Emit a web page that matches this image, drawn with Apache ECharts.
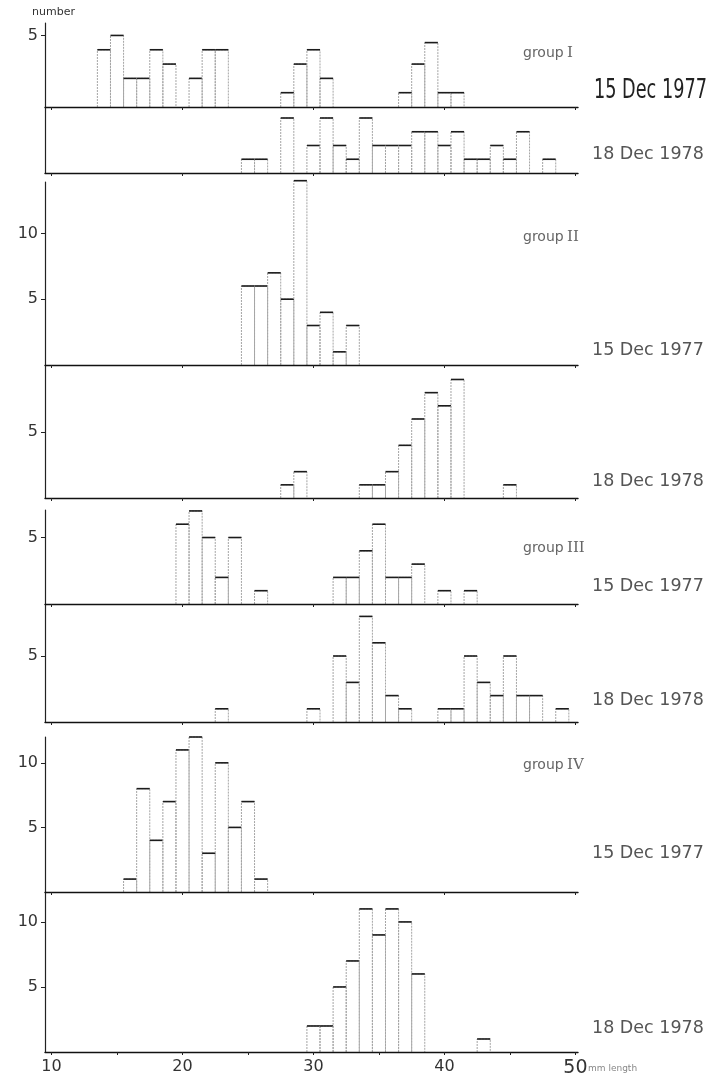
<!DOCTYPE html>
<html>
<head>
<meta charset="utf-8">
<title>length frequency, groups I-IV</title>
<script src="https://cdn.jsdelivr.net/npm/echarts@6/dist/echarts.min.js"></script>
<style>
  html, body { margin: 0; padding: 0; background: #fff; }
  #chart { width: 726px; height: 1080px; }
</style>
</head>
<body>
<div id="chart"></div>
<script>
// [length class (mm), number]
const g1Dec77 = [[14,4],[15,5],[16,2],[17,2],[18,4],[19,3],[21,2],[22,4],[23,4],
  [28,1],[29,3],[30,4],[31,2],[37,1],[38,3],[39,4.5],[40,1],[41,1]];
const g1Dec78 = [[25,1],[26,1],[28,4],[30,2],[31,4],[32,2],[33,1],[34,4],[35,2],[36,2],
  [37,2],[38,3],[39,3],[40,2],[41,3],[42,1],[43,1],[44,2],[45,1],[46,3],[48,1]];
const g2Dec77 = [[25,6],[26,6],[27,7],[28,5],[29,14],[30,3],[31,4],[32,1],[33,3]];
const g2Dec78 = [[28,1],[29,2],[34,1],[35,1],[36,2],[37,4],[38,6],[39,8],[40,7],[41,9],[45,1]];
const g3Dec77 = [[20,6],[21,7],[22,5],[23,2],[24,5],[26,1],[32,2],[33,2],[34,4],[35,6],
  [36,2],[37,2],[38,3],[40,1],[42,1]];
const g3Dec78 = [[23,1],[30,1],[32,5],[33,3],[34,8],[35,6],[36,2],[37,1],[40,1],[41,1],
  [42,5],[43,3],[44,2],[45,5],[46,2],[47,2],[49,1]];
const g4Dec77 = [[16,1],[17,8],[18,4],[19,7],[20,11],[21,12],[22,3],[23,10],[24,5],[25,7],[26,1]];
const g4Dec78 = [[30,2],[31,2],[32,5],[33,7],[34,11],[35,9],[36,11],[37,10],[38,6],[43,1]];

const xTicks = [10, 20, 30, 40, 50];
const xTicksBottom = [10, 15, 20, 25, 30, 35, 40, 45, 50];

// one entry per strip: data, box on the page, top of the count axis, labelled counts
const panels = [
  { data: g1Dec77, top: 23,  height: 84,  yMax: 5.87, yLabels: [5] },
  { data: g1Dec78, top: 107, height: 66,  yMax: 4.8,  yLabels: [] },
  { data: g2Dec77, top: 182, height: 183, yMax: 13.9, yLabels: [5, 10] },
  { data: g2Dec78, top: 365, height: 133, yMax: 10.1, yLabels: [5] },
  { data: g3Dec77, top: 510, height: 94,  yMax: 7.07, yLabels: [5] },
  { data: g3Dec78, top: 604, height: 118, yMax: 8.94, yLabels: [5] },
  { data: g4Dec77, top: 737, height: 155, yMax: 12.0, yLabels: [5, 10] },
  { data: g4Dec78, top: 892, height: 160, yMax: 12.3, yLabels: [5, 10] }
];

const axisFont = '"DejaVu Sans", "Liberation Sans", sans-serif';

// histogram bar: grey dotted-looking sides, dark top
function renderBar(params, api) {
  const len = api.value(0), n = api.value(1);
  const bl = api.coord([len - 0.5, 0]);
  const tr = api.coord([len + 0.5, n]);
  return {
    type: 'group',
    children: [
      {
        type: 'polyline',
        shape: { points: [[bl[0], bl[1]], [bl[0], tr[1]], [tr[0], tr[1]], [tr[0], bl[1]]] },
        style: { fill: null, stroke: '#a5a5a5', lineWidth: 1, lineDash: [2, 1] }
      },
      {
        type: 'line',
        shape: { x1: bl[0], y1: tr[1], x2: tr[0], y2: tr[1] },
        style: { stroke: '#1c1c1c', lineWidth: 1.6 }
      }
    ]
  };
}

const grids = [], xAxes = [], yAxes = [], series = [];
panels.forEach((p, i) => {
  const last = i === panels.length - 1;
  grids.push({ left: 45, right: 148, top: p.top, height: p.height });
  xAxes.push({
    type: 'value', gridIndex: i, min: 9.5, max: 50.2, z: 5,
    axisLine: { show: true, lineStyle: { color: '#111', width: 1.4 } },
    axisTick: { show: true, length: 3, customValues: last ? xTicksBottom : xTicks,
      lineStyle: { color: '#222', width: 1 } },
    axisLabel: {
      show: last, customValues: xTicks, margin: 7, color: '#333',
      fontFamily: axisFont, fontSize: 16,
      formatter: v => (v === 50 ? '{big|50}' : String(v)),
      rich: { big: { fontSize: 19, fontFamily: axisFont, color: '#333' } }
    },
    splitLine: { show: false }
  });
  yAxes.push({
    type: 'value', gridIndex: i, min: 0, max: p.yMax,
    axisLine: { show: true, lineStyle: { color: '#222', width: 1.2 } },
    axisTick: { show: p.yLabels.length > 0, length: 4, customValues: p.yLabels,
      lineStyle: { color: '#222' } },
    axisLabel: { show: p.yLabels.length > 0, customValues: p.yLabels, margin: 7,
      color: '#333', fontFamily: axisFont, fontSize: 16 },
    splitLine: { show: false }
  });
  series.push({
    type: 'custom', xAxisIndex: i, yAxisIndex: i, z: 2,
    renderItem: renderBar, data: p.data, silent: true
  });
});

function groupLabel(num, y) {
  return {
    type: 'text', x: 523, y: y,
    style: {
      text: '{g|group} {n|' + num + '}', verticalAlign: 'middle',
      rich: {
        g: { fontFamily: axisFont, fontSize: 14, fill: '#666' },
        n: { fontFamily: '"DejaVu Serif", "Liberation Serif", serif', fontSize: 15, fill: '#666' }
      }
    }
  };
}
function dateLabel(txt, y) {
  return {
    type: 'text', x: 592, y: y,
    style: { text: txt, verticalAlign: 'middle', fontFamily: axisFont, fontSize: 17.5, fill: '#555' }
  };
}

const chart = echarts.init(document.getElementById('chart'));
chart.setOption({
  animation: false,
  backgroundColor: '#fff',
  grid: grids,
  xAxis: xAxes,
  yAxis: yAxes,
  series: series,
  graphic: [
    { type: 'text', x: 32, y: 12, style: { text: 'number', verticalAlign: 'middle',
      fontFamily: axisFont, fontSize: 11, fill: '#333' } },
    groupLabel('I', 53),
    // the first date is printed in a tall condensed face
    { type: 'text', x: 594, y: 91, scaleX: 0.68, style: { text: '15 Dec 1977',
      verticalAlign: 'middle', fontFamily: axisFont, fontSize: 26, fill: '#222' } },
    dateLabel('18 Dec 1978', 154),
    groupLabel('II', 237),
    dateLabel('15 Dec 1977', 350),
    dateLabel('18 Dec 1978', 481),
    groupLabel('III', 548),
    dateLabel('15 Dec 1977', 586),
    dateLabel('18 Dec 1978', 700),
    groupLabel('IV', 765),
    dateLabel('15 Dec 1977', 853),
    dateLabel('18 Dec 1978', 1028),
    { type: 'text', x: 588, y: 1069, style: { text: 'mm length', verticalAlign: 'middle',
      fontFamily: axisFont, fontSize: 9, fill: '#888' } }
  ]
});
</script>
</body>
</html>
